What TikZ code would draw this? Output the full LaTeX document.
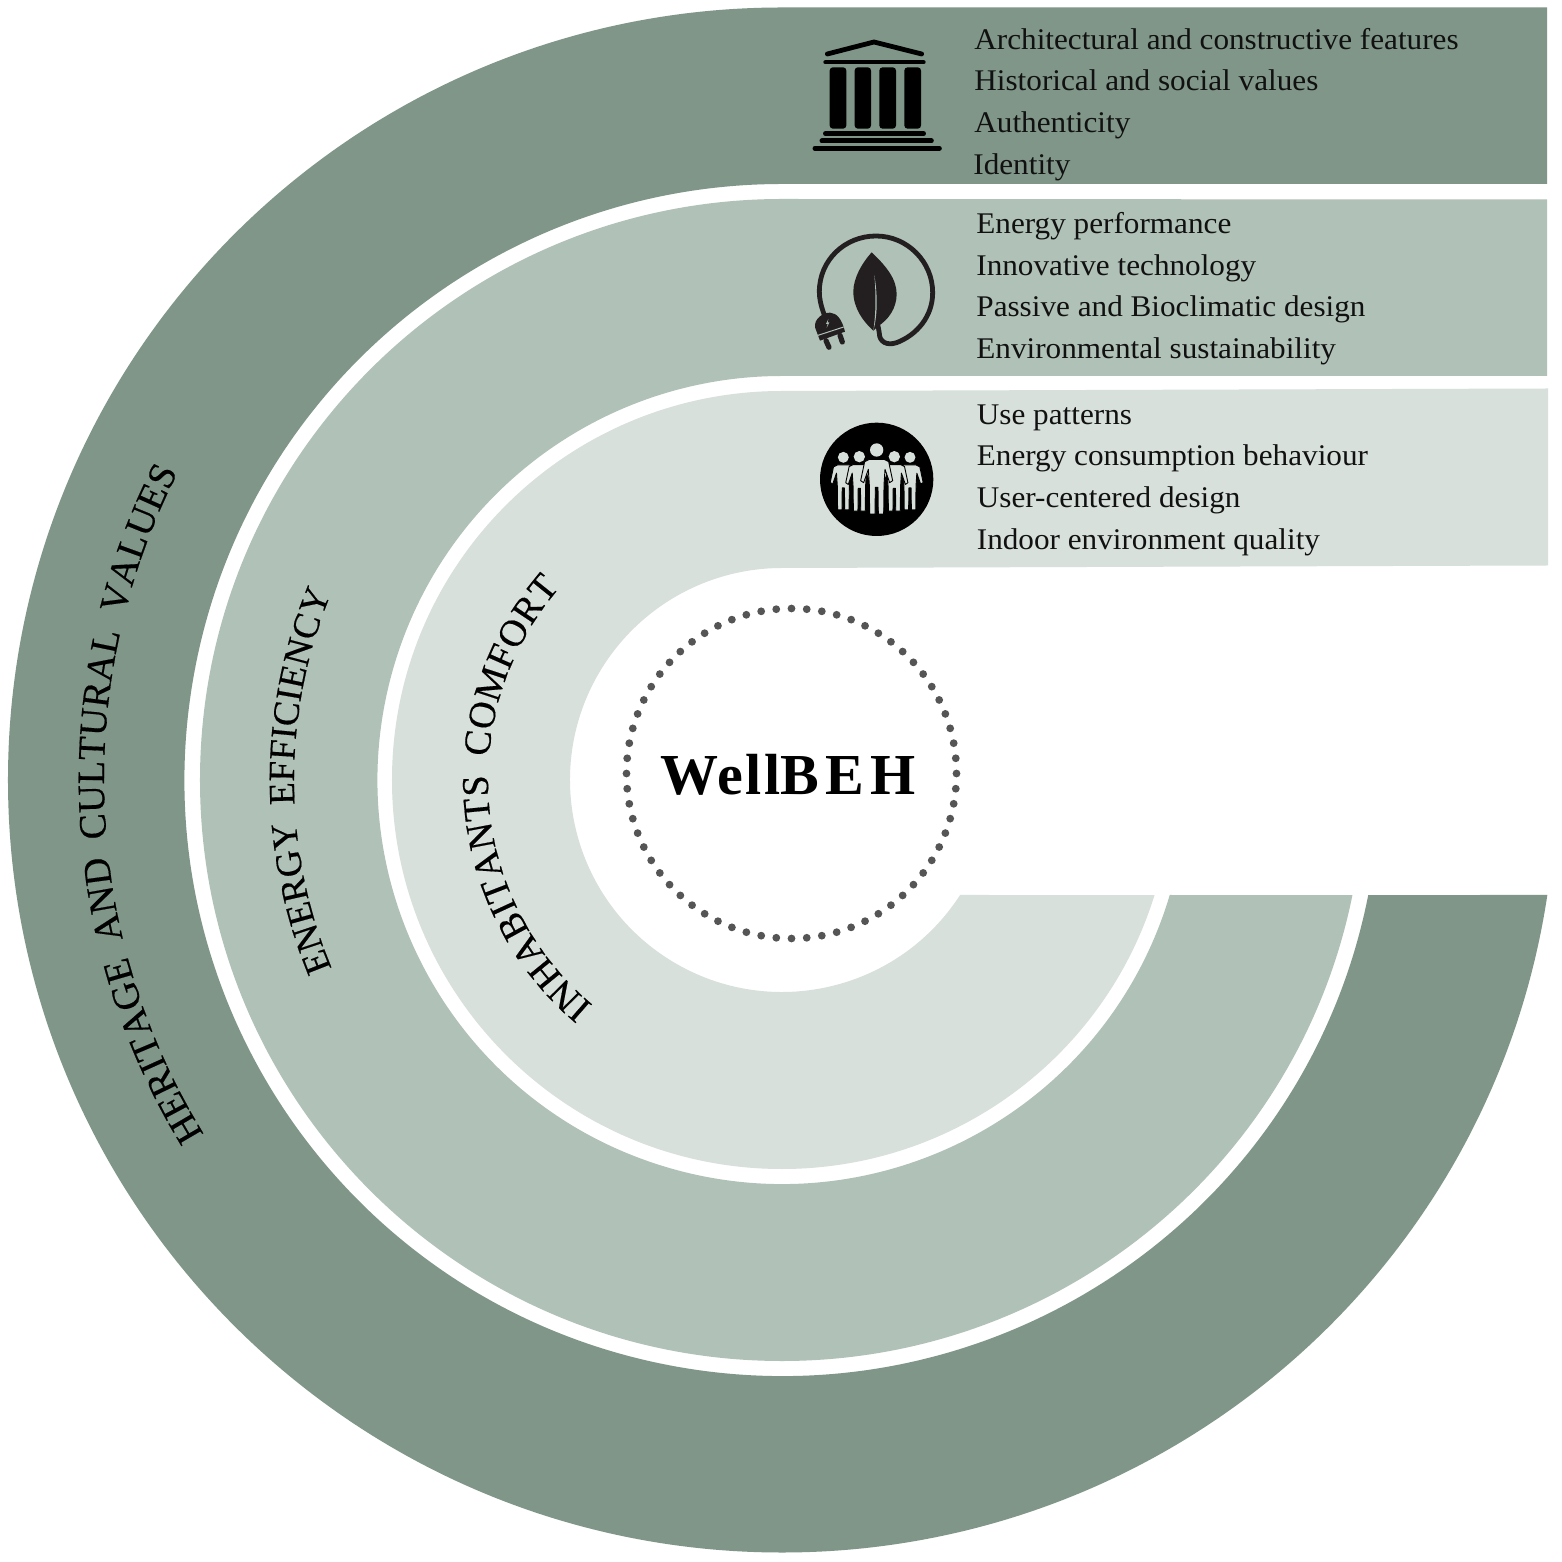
\documentclass[tikz,border=0pt]{standalone}
\usepackage{fontspec}
\setmainfont{Liberation Serif}
\newfontfamily\itemfont[FakeStretch=1.04]{Liberation Serif}
\newfontfamily\titlefont[LetterSpace=4]{Liberation Serif}
\newfontfamily\titlewide[LetterSpace=11]{Liberation Serif}
\newfontfamily\arcfont[FakeBold=0.4,WordSpace=1.8]{Liberation Serif}
\usetikzlibrary{decorations.text,calc}
\definecolor{ringdark}{HTML}{7F9688}
\definecolor{ringmid}{HTML}{B0C1B7}
\definecolor{ringlight}{HTML}{D7E0DB}
\definecolor{dotgrey}{HTML}{555555}
\definecolor{iconblack}{HTML}{231F20}
\definecolor{inktext}{HTML}{111111}
\tikzset{
  itemtext/.style={anchor=base west,inner sep=0pt,text=inktext,font=\itemfont\fontsize{15}{18}\selectfont},
  zoomframe/.style={x=0.16667pt,y=-0.16667pt},
  curvelabel/.style={decorate,decoration={text along path,text={#1},text align={fit to path}}}
}
% one figure, head centre at (#1,#2), scale #3
\newcommand{\personicon}[3]{%
  \begin{scope}[shift={(#1,#2)},scale=#3]
    \fill[ringlight] (0,0) circle[radius=20];
    \filldraw[fill=ringlight,draw=black,line width=0.45pt,line join=round]
      (-22,28) -- (22,28) -- (36,35) -- (48,92) -- (39,98) -- (25,58) -- (22,105) -- (21,192) -- (5,192) -- (4,112) -- (-4,112) -- (-5,192) -- (-21,192) -- (-22,105) -- (-25,58) -- (-39,98) -- (-48,92) -- (-36,35) -- cycle;
  \end{scope}}
\begin{document}
\begin{tikzpicture}[x=0.5pt,y=0.5pt]
\useasboundingbox (-782,-782) rectangle (780,780);
\fill[white] (-782,-782) rectangle (780,780);
% rings (centre at the origin)
\fill[ringdark] (765,772.5) -- (0,772.5) arc[start angle=90,end angle=351.44,x radius=774,y radius=772.5] -- (348.87:597.5 and 596) arc[start angle=348.87,end angle=90,x radius=597.5,y radius=596] -- (765,596) -- cycle;
\fill[ringmid] (765,580.5) -- (0,581) arc[start angle=90,end angle=348.58,x radius=582,y radius=581] -- (343.46:404.5 and 404) arc[start angle=343.46,end angle=90,x radius=404.5,y radius=404] -- (765,404) -- cycle;
\fill[ringlight] (766,391.5) -- (0,389) arc[start angle=90,end angle=342.8,x radius=390,y radius=389] -- (327.15:212) arc[start angle=327.15,end angle=90,radius=212] -- (766,214.5) -- cycle;
% dotted circle
\foreach \k in {1,...,68}
  \fill[dotgrey] ($(9.5,6.5)+(90-\k*5.294:165)$) circle[radius=3.9];
% centre title
\node[anchor=base,inner sep=0pt,text=black,font=\fontsize{29}{32}\selectfont\bfseries] (title) at (6,-15) {{\titlefont\bfseries Well}{\titlewide\bfseries BEH}};
% curved labels
\path[curvelabel={|\arcfont\fontsize{19.3}{21}\selectfont|HERITAGE AND CULTURAL VALUES}] (211.5:678) arc[start angle=211.5,end angle=153,radius=678];
\path[curvelabel={|\arcfont\fontsize{18.5}{21}\selectfont|ENERGY EFFICIENCY}] (202.7:488) arc[start angle=202.7,end angle=157.5,radius=488];
\path[curvelabel={|\arcfont\fontsize{19}{21}\selectfont|INHABITANTS COMFORT}] (230:294) arc[start angle=230,end angle=139,radius=294];
% item lists: positions are reference px minus the centre (782,780)
\node[itemtext] (a1) at (192,730.5) {Architectural and constructive features};
\node[itemtext] (a2) at (192,689.5) {Historical and social values};
\node[itemtext] (a3) at (192,647.5) {Authenticity};
\node[itemtext] (a4) at (191,605.5) {Identity};
\node[itemtext] (b1) at (194,546.5) {Energy performance};
\node[itemtext] (b2) at (194,504.5) {Innovative technology};
\node[itemtext] (b3) at (194,463.5) {Passive and Bioclimatic design};
\node[itemtext] (b4) at (194,421.5) {Environmental sustainability};
\node[itemtext] (c1) at (194.5,355.5) {Use patterns};
\node[itemtext] (c2) at (194.5,314.5) {Energy consumption behaviour};
\node[itemtext] (c3) at (194.5,272.5) {User-centered design};
\node[itemtext] (c4) at (194.5,230.5) {Indoor environment quality};
% temple icon
\begin{scope}[shift={(8,760)},zoomframe]
  \draw[black,line width=2.4pt,line cap=round,line join=round] (112,102) -- (252,66) -- (395,102);
  \draw[black,line width=2pt,line cap=round] (106,127) -- (401,127);
  \foreach \a/\b in {119/169,194/243,268/318,343/393}
    \fill[black,rounded corners=1.6pt] (\a,142) rectangle (\b,326);
  \draw[black,line width=2.3pt,line cap=round] (106,341) -- (401,341);
  \draw[black,line width=2.5pt,line cap=round] (96,363) -- (424,363);
  \draw[black,line width=2.5pt,line cap=round] (75,385) -- (448,385);
\end{scope}
% plug and leaf icon
\begin{scope}[shift={(8,560)},zoomframe]
  \draw[iconblack,line width=2.4pt,line cap=round]
    (103,285) .. controls (92,255) and (88,235) .. (88,215)
    .. controls (88,120) and (165,48) .. (258,48)
    .. controls (352,48) and (428,125) .. (428,218)
    .. controls (428,290) and (380,345) .. (320,368)
    .. controls (290,378) and (268,365) .. (268,340)
    .. controls (266,328) and (265,320) .. (262,310);
  \fill[iconblack] (245,97) .. controls (215,130) and (190,175) .. (190,215)
    .. controls (190,265) and (220,305) .. (250,332)
    -- (262,320) .. controls (295,300) and (320,265) .. (320,222)
    .. controls (320,175) and (285,135) .. (245,97) -- cycle;
  \fill[ringmid] (253,165) .. controls (262,220) and (264,280) .. (250,332) .. controls (258,280) and (258,220) .. (253,165) -- cycle;
  \fill[iconblack] (90,362) -- (75,322) .. controls (72,295) and (100,278) .. (120,278)
    .. controls (140,280) and (155,295) .. (165,335) -- cycle;
  \draw[ringmid,line width=0.5pt] (84,346) -- (161,321);
  \fill[ringmid] (115,297) -- (108,312) -- (113,312) -- (110,323) -- (118,307) -- (113,307) -- cycle;
  \draw[iconblack,line width=2.6pt,line cap=round] (108,362) -- (117,382);
  \draw[iconblack,line width=2.6pt,line cap=round] (150,346) -- (157,366);
\end{scope}
% people icon
\begin{scope}[shift={(18,370)},zoomframe]
  \fill[black] (230,208) circle[radius=170];
  \personicon{130}{142}{0.82}
  \personicon{330}{142}{0.82}
  \personicon{178}{140}{0.85}
  \personicon{283}{140}{0.85}
  \personicon{230}{120}{1}
\end{scope}
\end{tikzpicture}
\end{document}
